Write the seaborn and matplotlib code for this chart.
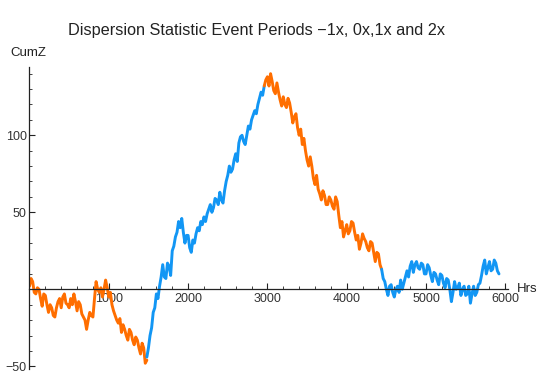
import numpy as np
import pandas as pd
import matplotlib
matplotlib.use("Agg")
import matplotlib.pyplot as plt
import seaborn as sns
from matplotlib.ticker import MultipleLocator, FixedLocator

sns.set_style("white")
plt.rcParams['font.family'] = ['Liberation Sans', 'DejaVu Sans']

step_hrs = 20
# CumZ, one value every 20 hours, per event period
period_starts = [0, 1480, 2960, 4440]
period_names = ["-1x", "0x", "1x", "2x"]
cumz_m1x = [
    2, 7, 5, -2, -3, 1, 0, -6, -11, -3,
    -4, -10, -15, -10, -12, -17, -18, -12, -8, -6,
    -12, -5, -3, -9, -10, -12, -6, -10, -3, -8,
    -14, -8, -10, -16, -18, -20, -26, -20, -15, -17,
    -18, -6, 5, 0, -2, 1, -5, 0, 6, 1,
    -5, -2, -10, -14, -17, -20, -22, -19, -28, -23,
    -26, -30, -33, -26, -28, -33, -36, -31, -33, -38,
    -42, -35, -38, -48, -46,
]
cumz_0x = [
    -44, -38, -30, -25, -15, -12, -3, -6, 2, 8,
    16, 8, 7, 17, 15, 9, 25, 28, 34, 37,
    44, 40, 46, 37, 30, 35, 35, 27, 24, 32,
    30, 36, 40, 38, 44, 42, 47, 44, 49, 52,
    55, 50, 53, 59, 58, 55, 63, 58, 56, 64,
    70, 74, 80, 76, 78, 84, 88, 83, 95, 99,
    100, 96, 94, 100, 106, 104, 110, 113, 116, 114,
    120, 124, 128, 126, 132,
]
cumz_1x = [
    132, 136, 138, 132, 140, 135, 129, 127, 134, 128,
    123, 119, 125, 120, 118, 124, 121, 115, 108, 112,
    114, 105, 100, 104, 94, 98, 90, 84, 80, 86,
    80, 72, 68, 74, 65, 62, 58, 64, 61, 55,
    55, 60, 58, 54, 52, 60, 57, 48, 40, 44,
    34, 38, 42, 36, 38, 44, 43, 37, 32, 35,
    26, 30, 36, 33, 31, 27, 25, 31, 30, 24,
    18, 24, 23, 16, 13,
]
cumz_2x = [
    13, 7, 5, 0, -4, 2, 3, -2, -5, 0,
    2, -2, 6, 0, 4, 8, 12, 8, 15, 18,
    11, 16, 18, 14, 13, 17, 16, 10, 10, 16,
    14, 9, 5, 11, 10, 6, 3, 10, 9, 4,
    1, 7, 6, 0, -8, -2, 5, 0, 1, 4,
    -4, 0, 2, -4, -3, 2, -9, -3, 2, -4,
    -2, 3, 4, 9, 15, 19, 10, 14, 18, 12,
    13, 19, 17, 12, 10,
]
period_colors = {"-1x": "#ff6e00", "0x": "#1296f4", "1x": "#ff6e00", "2x": "#1296f4"}

rows = []
for name, start, vals in zip(period_names, period_starts,
                             [cumz_m1x, cumz_0x, cumz_1x, cumz_2x]):
    for i, v in enumerate(vals):
        rows.append({"Hrs": start + i * step_hrs, "CumZ": v, "period": name})
df = pd.DataFrame(rows)

fig = plt.figure(figsize=(5.4, 3.75), dpi=100)
ax = fig.add_axes([0.0546, 0.017, 0.8856, 0.805])
sns.lineplot(data=df, x="Hrs", y="CumZ", hue="period", palette=period_colors,
             estimator=None, sort=False, legend=False, linewidth=2.1, ax=ax)

ax.set_xlim(0, 6030)
ax.set_ylim(-51.5, 144.5)
ax.spines['left'].set_position(('data', 0))
ax.spines['bottom'].set_position(('data', 0))
ax.spines['top'].set_visible(False)
ax.spines['right'].set_visible(False)
for s in ('left', 'bottom'):
    ax.spines[s].set_color('#222222')
    ax.spines[s].set_linewidth(0.9)

ax.xaxis.set_major_locator(FixedLocator([1000, 2000, 3000, 4000, 5000, 6000]))
ax.xaxis.set_minor_locator(MultipleLocator(200))
ax.yaxis.set_major_locator(FixedLocator([-50, 50, 100]))
ax.yaxis.set_minor_locator(MultipleLocator(10))
ax.set_yticklabels(["\u221250", "50", "100"])
ax.tick_params(axis='both', which='both', bottom=True, left=True, top=False, right=False)
ax.tick_params(axis='both', which='major', direction='in', length=4, width=0.8,
               labelsize=9, colors='#222222', labelcolor='#333333')
ax.tick_params(axis='both', which='minor', direction='in', length=2, width=0.6,
               colors='#222222')
ax.tick_params(axis='x', which='major', pad=3)
ax.tick_params(axis='y', which='major', pad=2)
ax.set_xlabel("")
ax.set_ylabel("")

fig.text(10 / 540, 1 - 53 / 375, "CumZ", fontsize=9.5, color='#222222', va='center', ha='left')
fig.text(517 / 540, 1 - 289 / 375, "Hrs", fontsize=9.5, color='#222222', va='center', ha='left')
fig.text(256 / 540, 1 - 31 / 375, "Dispersion Statistic Event Periods \u22121x, 0x,1x and 2x",
         fontsize=11.7, color='#222222', va='center', ha='center')

fig.savefig("out.png", dpi=100)
